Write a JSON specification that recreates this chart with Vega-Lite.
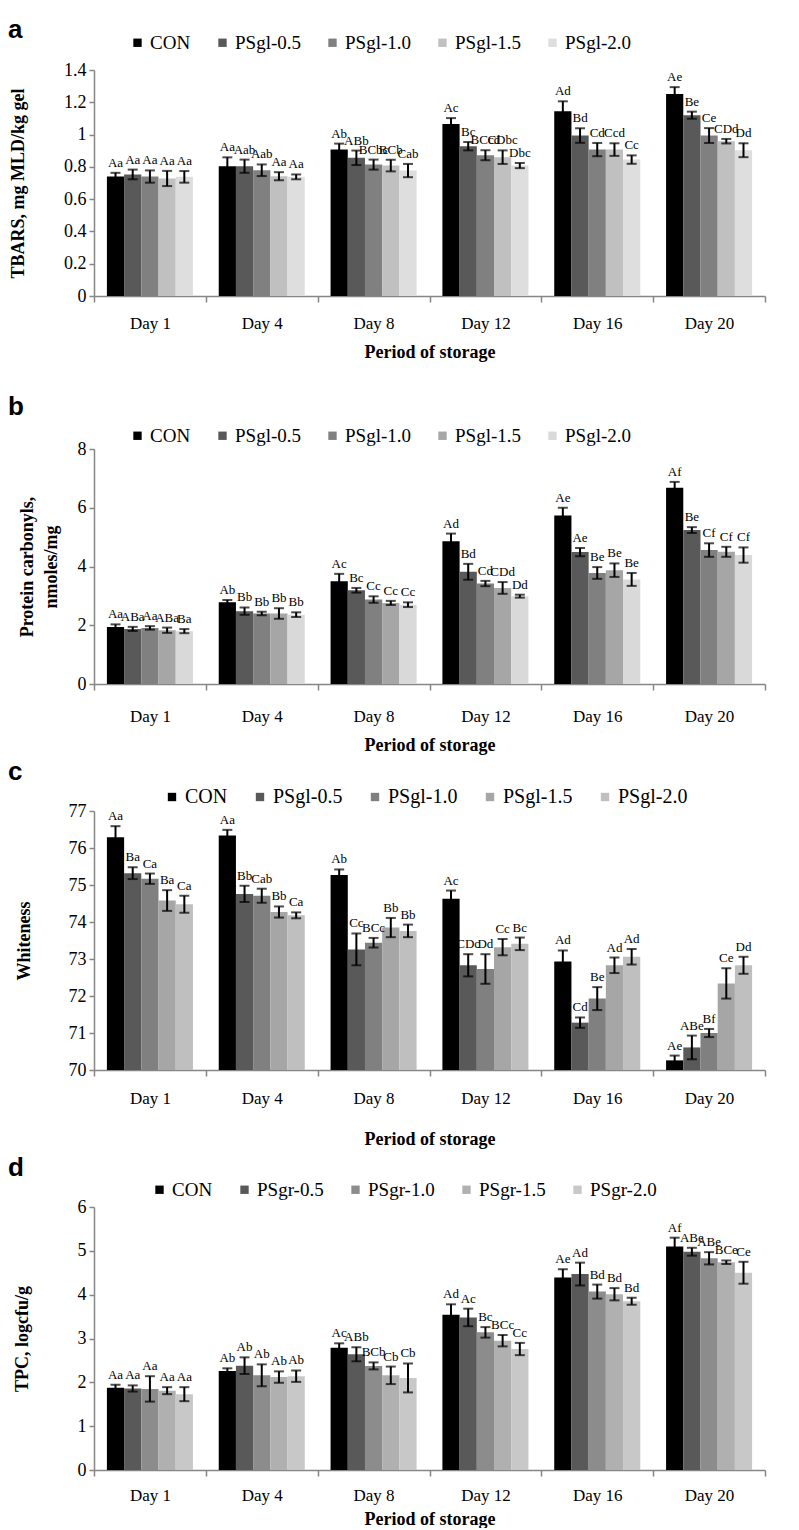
{
  "$schema": "https://vega.github.io/schema/vega-lite/v6.json",
  "padding": {"left": 8, "top": 17, "right": 5, "bottom": 0},
  "background": "white",
  "bounds": "full",
  "spacing": 5,
  "datasets": {
    "a": [
      {"day": "Day 1", "trt": "CON", "v": 0.74, "lo": 0.717, "hi": 0.763, "lab": "Aa"},
      {"day": "Day 1", "trt": "PSgl-0.5", "v": 0.753, "lo": 0.723, "hi": 0.783, "lab": "Aa"},
      {"day": "Day 1", "trt": "PSgl-1.0", "v": 0.74, "lo": 0.702, "hi": 0.778, "lab": "Aa"},
      {"day": "Day 1", "trt": "PSgl-1.5", "v": 0.728, "lo": 0.681, "hi": 0.775, "lab": "Aa"},
      {"day": "Day 1", "trt": "PSgl-2.0", "v": 0.738, "lo": 0.702, "hi": 0.774, "lab": "Aa"},
      {"day": "Day 4", "trt": "CON", "v": 0.804, "lo": 0.749, "hi": 0.859, "lab": "Aa"},
      {"day": "Day 4", "trt": "PSgl-0.5", "v": 0.804, "lo": 0.763, "hi": 0.845, "lab": "Aab"},
      {"day": "Day 4", "trt": "PSgl-1.0", "v": 0.779, "lo": 0.743, "hi": 0.815, "lab": "Aab"},
      {"day": "Day 4", "trt": "PSgl-1.5", "v": 0.742, "lo": 0.717, "hi": 0.767, "lab": "Aa"},
      {"day": "Day 4", "trt": "PSgl-2.0", "v": 0.738, "lo": 0.723, "hi": 0.753, "lab": "Aa"},
      {"day": "Day 8", "trt": "CON", "v": 0.907, "lo": 0.87, "hi": 0.944, "lab": "Ab"},
      {"day": "Day 8", "trt": "PSgl-0.5", "v": 0.856, "lo": 0.811, "hi": 0.901, "lab": "ABb"},
      {"day": "Day 8", "trt": "PSgl-1.0", "v": 0.814, "lo": 0.783, "hi": 0.845, "lab": "BCbc"},
      {"day": "Day 8", "trt": "PSgl-1.5", "v": 0.808, "lo": 0.772, "hi": 0.844, "lab": "BCb"},
      {"day": "Day 8", "trt": "PSgl-2.0", "v": 0.777, "lo": 0.736, "hi": 0.818, "lab": "Cab"},
      {"day": "Day 12", "trt": "CON", "v": 1.066, "lo": 1.03, "hi": 1.102, "lab": "Ac"},
      {"day": "Day 12", "trt": "PSgl-0.5", "v": 0.928, "lo": 0.902, "hi": 0.954, "lab": "Bc"},
      {"day": "Day 12", "trt": "PSgl-1.0", "v": 0.872, "lo": 0.841, "hi": 0.903, "lab": "BCcd"},
      {"day": "Day 12", "trt": "PSgl-1.5", "v": 0.86, "lo": 0.818, "hi": 0.902, "lab": "CDbc"},
      {"day": "Day 12", "trt": "PSgl-2.0", "v": 0.808, "lo": 0.792, "hi": 0.824, "lab": "Dbc"},
      {"day": "Day 16", "trt": "CON", "v": 1.144, "lo": 1.082, "hi": 1.206, "lab": "Ad"},
      {"day": "Day 16", "trt": "PSgl-0.5", "v": 0.994, "lo": 0.949, "hi": 1.039, "lab": "Bd"},
      {"day": "Day 16", "trt": "PSgl-1.0", "v": 0.907, "lo": 0.866, "hi": 0.948, "lab": "Cd"},
      {"day": "Day 16", "trt": "PSgl-1.5", "v": 0.907, "lo": 0.868, "hi": 0.946, "lab": "Ccd"},
      {"day": "Day 16", "trt": "PSgl-2.0", "v": 0.845, "lo": 0.819, "hi": 0.871, "lab": "Cc"},
      {"day": "Day 20", "trt": "CON", "v": 1.252, "lo": 1.21, "hi": 1.294, "lab": "Ae"},
      {"day": "Day 20", "trt": "PSgl-0.5", "v": 1.12, "lo": 1.098, "hi": 1.142, "lab": "Be"},
      {"day": "Day 20", "trt": "PSgl-1.0", "v": 0.994, "lo": 0.948, "hi": 1.04, "lab": "Ce"},
      {"day": "Day 20", "trt": "PSgl-1.5", "v": 0.959, "lo": 0.945, "hi": 0.973, "lab": "CDd"},
      {"day": "Day 20", "trt": "PSgl-2.0", "v": 0.903, "lo": 0.86, "hi": 0.946, "lab": "Dd"}
    ],
    "b": [
      {"day": "Day 1", "trt": "CON", "v": 1.94, "lo": 1.85, "hi": 2.03, "lab": "Aa"},
      {"day": "Day 1", "trt": "PSgl-0.5", "v": 1.875, "lo": 1.805, "hi": 1.945, "lab": "ABa"},
      {"day": "Day 1", "trt": "PSgl-1.0", "v": 1.91, "lo": 1.85, "hi": 1.97, "lab": "Aa"},
      {"day": "Day 1", "trt": "PSgl-1.5", "v": 1.83, "lo": 1.74, "hi": 1.92, "lab": "ABa"},
      {"day": "Day 1", "trt": "PSgl-2.0", "v": 1.8, "lo": 1.73, "hi": 1.87, "lab": "Ba"},
      {"day": "Day 4", "trt": "CON", "v": 2.78, "lo": 2.7, "hi": 2.86, "lab": "Ab"},
      {"day": "Day 4", "trt": "PSgl-0.5", "v": 2.48, "lo": 2.355, "hi": 2.605, "lab": "Bb"},
      {"day": "Day 4", "trt": "PSgl-1.0", "v": 2.4, "lo": 2.34, "hi": 2.46, "lab": "Bb"},
      {"day": "Day 4", "trt": "PSgl-1.5", "v": 2.4, "lo": 2.22, "hi": 2.58, "lab": "Bb"},
      {"day": "Day 4", "trt": "PSgl-2.0", "v": 2.36, "lo": 2.28, "hi": 2.44, "lab": "Bb"},
      {"day": "Day 8", "trt": "CON", "v": 3.5, "lo": 3.25, "hi": 3.75, "lab": "Ac"},
      {"day": "Day 8", "trt": "PSgl-0.5", "v": 3.19, "lo": 3.11, "hi": 3.27, "lab": "Bc"},
      {"day": "Day 8", "trt": "PSgl-1.0", "v": 2.875, "lo": 2.765, "hi": 2.985, "lab": "Cc"},
      {"day": "Day 8", "trt": "PSgl-1.5", "v": 2.76, "lo": 2.69, "hi": 2.83, "lab": "Cc"},
      {"day": "Day 8", "trt": "PSgl-2.0", "v": 2.7, "lo": 2.62, "hi": 2.78, "lab": "Cc"},
      {"day": "Day 12", "trt": "CON", "v": 4.86, "lo": 4.6, "hi": 5.12, "lab": "Ad"},
      {"day": "Day 12", "trt": "PSgl-0.5", "v": 3.82, "lo": 3.55, "hi": 4.09, "lab": "Bd"},
      {"day": "Day 12", "trt": "PSgl-1.0", "v": 3.42, "lo": 3.33, "hi": 3.51, "lab": "Cd"},
      {"day": "Day 12", "trt": "PSgl-1.5", "v": 3.27, "lo": 3.07, "hi": 3.47, "lab": "CDd"},
      {"day": "Day 12", "trt": "PSgl-2.0", "v": 2.99, "lo": 2.94, "hi": 3.04, "lab": "Dd"},
      {"day": "Day 16", "trt": "CON", "v": 5.74, "lo": 5.48, "hi": 6.0, "lab": "Ae"},
      {"day": "Day 16", "trt": "PSgl-0.5", "v": 4.49, "lo": 4.35, "hi": 4.63, "lab": "Ae"},
      {"day": "Day 16", "trt": "PSgl-1.0", "v": 3.78, "lo": 3.58, "hi": 3.98, "lab": "Be"},
      {"day": "Day 16", "trt": "PSgl-1.5", "v": 3.875, "lo": 3.645, "hi": 4.105, "lab": "Be"},
      {"day": "Day 16", "trt": "PSgl-2.0", "v": 3.56, "lo": 3.34, "hi": 3.78, "lab": "Be"},
      {"day": "Day 20", "trt": "CON", "v": 6.68, "lo": 6.48, "hi": 6.88, "lab": "Af"},
      {"day": "Day 20", "trt": "PSgl-0.5", "v": 5.24, "lo": 5.14, "hi": 5.34, "lab": "Be"},
      {"day": "Day 20", "trt": "PSgl-1.0", "v": 4.56, "lo": 4.33, "hi": 4.79, "lab": "Cf"},
      {"day": "Day 20", "trt": "PSgl-1.5", "v": 4.5, "lo": 4.33, "hi": 4.67, "lab": "Cf"},
      {"day": "Day 20", "trt": "PSgl-2.0", "v": 4.39, "lo": 4.13, "hi": 4.65, "lab": "Cf"}
    ],
    "c": [
      {"day": "Day 1", "trt": "CON", "v": 76.29, "lo": 75.99, "hi": 76.59, "lab": "Aa"},
      {"day": "Day 1", "trt": "PSgl-0.5", "v": 75.32, "lo": 75.16, "hi": 75.48, "lab": "Ba"},
      {"day": "Day 1", "trt": "PSgl-1.0", "v": 75.17, "lo": 75.03, "hi": 75.31, "lab": "Ca"},
      {"day": "Day 1", "trt": "PSgl-1.5", "v": 74.58, "lo": 74.3, "hi": 74.86, "lab": "Ba"},
      {"day": "Day 1", "trt": "PSgl-2.0", "v": 74.48, "lo": 74.25, "hi": 74.71, "lab": "Ca"},
      {"day": "Day 4", "trt": "CON", "v": 76.34, "lo": 76.19, "hi": 76.49, "lab": "Aa"},
      {"day": "Day 4", "trt": "PSgl-0.5", "v": 74.76, "lo": 74.54, "hi": 74.98, "lab": "Bb"},
      {"day": "Day 4", "trt": "PSgl-1.0", "v": 74.71, "lo": 74.52, "hi": 74.9, "lab": "Cab"},
      {"day": "Day 4", "trt": "PSgl-1.5", "v": 74.27, "lo": 74.12, "hi": 74.42, "lab": "Bb"},
      {"day": "Day 4", "trt": "PSgl-2.0", "v": 74.18, "lo": 74.1, "hi": 74.26, "lab": "Ca"},
      {"day": "Day 8", "trt": "CON", "v": 75.27, "lo": 75.12, "hi": 75.42, "lab": "Ab"},
      {"day": "Day 8", "trt": "PSgl-0.5", "v": 73.26, "lo": 72.83, "hi": 73.69, "lab": "Cc"},
      {"day": "Day 8", "trt": "PSgl-1.0", "v": 73.44, "lo": 73.31, "hi": 73.57, "lab": "BCc"},
      {"day": "Day 8", "trt": "PSgl-1.5", "v": 73.85, "lo": 73.59, "hi": 74.11, "lab": "Bb"},
      {"day": "Day 8", "trt": "PSgl-2.0", "v": 73.76, "lo": 73.59, "hi": 73.93, "lab": "Bb"},
      {"day": "Day 12", "trt": "CON", "v": 74.63, "lo": 74.41, "hi": 74.85, "lab": "Ac"},
      {"day": "Day 12", "trt": "PSgl-0.5", "v": 72.83, "lo": 72.53, "hi": 73.13, "lab": "CDc"},
      {"day": "Day 12", "trt": "PSgl-1.0", "v": 72.73, "lo": 72.33, "hi": 73.13, "lab": "Dd"},
      {"day": "Day 12", "trt": "PSgl-1.5", "v": 73.32, "lo": 73.1, "hi": 73.54, "lab": "Cc"},
      {"day": "Day 12", "trt": "PSgl-2.0", "v": 73.41, "lo": 73.24, "hi": 73.58, "lab": "Bc"},
      {"day": "Day 16", "trt": "CON", "v": 72.93, "lo": 72.63, "hi": 73.23, "lab": "Ad"},
      {"day": "Day 16", "trt": "PSgl-0.5", "v": 71.28, "lo": 71.14, "hi": 71.42, "lab": "Cd"},
      {"day": "Day 16", "trt": "PSgl-1.0", "v": 71.93, "lo": 71.62, "hi": 72.24, "lab": "Be"},
      {"day": "Day 16", "trt": "PSgl-1.5", "v": 72.83, "lo": 72.62, "hi": 73.04, "lab": "Ad"},
      {"day": "Day 16", "trt": "PSgl-2.0", "v": 73.06, "lo": 72.85, "hi": 73.27, "lab": "Ad"},
      {"day": "Day 20", "trt": "CON", "v": 70.26, "lo": 70.13, "hi": 70.39, "lab": "Ae"},
      {"day": "Day 20", "trt": "PSgl-0.5", "v": 70.61, "lo": 70.29, "hi": 70.93, "lab": "ABe"},
      {"day": "Day 20", "trt": "PSgl-1.0", "v": 71.0, "lo": 70.89, "hi": 71.11, "lab": "Bf"},
      {"day": "Day 20", "trt": "PSgl-1.5", "v": 72.34, "lo": 71.93, "hi": 72.75, "lab": "Ce"},
      {"day": "Day 20", "trt": "PSgl-2.0", "v": 72.83, "lo": 72.6, "hi": 73.06, "lab": "Dd"}
    ],
    "d": [
      {"day": "Day 1", "trt": "CON", "v": 1.875, "lo": 1.805, "hi": 1.945, "lab": "Aa"},
      {"day": "Day 1", "trt": "PSgr-0.5", "v": 1.86, "lo": 1.79, "hi": 1.93, "lab": "Aa"},
      {"day": "Day 1", "trt": "PSgr-1.0", "v": 1.85, "lo": 1.56, "hi": 2.14, "lab": "Aa"},
      {"day": "Day 1", "trt": "PSgr-1.5", "v": 1.81, "lo": 1.73, "hi": 1.89, "lab": "Aa"},
      {"day": "Day 1", "trt": "PSgr-2.0", "v": 1.73, "lo": 1.57, "hi": 1.89, "lab": "Aa"},
      {"day": "Day 4", "trt": "CON", "v": 2.26, "lo": 2.2, "hi": 2.32, "lab": "Ab"},
      {"day": "Day 4", "trt": "PSgr-0.5", "v": 2.38, "lo": 2.19, "hi": 2.57, "lab": "Ab"},
      {"day": "Day 4", "trt": "PSgr-1.0", "v": 2.16, "lo": 1.91, "hi": 2.41, "lab": "Ab"},
      {"day": "Day 4", "trt": "PSgr-1.5", "v": 2.12, "lo": 1.99, "hi": 2.25, "lab": "Ab"},
      {"day": "Day 4", "trt": "PSgr-2.0", "v": 2.14, "lo": 2.01, "hi": 2.27, "lab": "Ab"},
      {"day": "Day 8", "trt": "CON", "v": 2.79, "lo": 2.69, "hi": 2.89, "lab": "Ac"},
      {"day": "Day 8", "trt": "PSgr-0.5", "v": 2.64, "lo": 2.48, "hi": 2.8, "lab": "ABb"},
      {"day": "Day 8", "trt": "PSgr-1.0", "v": 2.375, "lo": 2.295, "hi": 2.455, "lab": "BCb"},
      {"day": "Day 8", "trt": "PSgr-1.5", "v": 2.16, "lo": 1.96, "hi": 2.36, "lab": "Cb"},
      {"day": "Day 8", "trt": "PSgr-2.0", "v": 2.1, "lo": 1.77, "hi": 2.43, "lab": "Cb"},
      {"day": "Day 12", "trt": "CON", "v": 3.54, "lo": 3.3, "hi": 3.78, "lab": "Ad"},
      {"day": "Day 12", "trt": "PSgr-0.5", "v": 3.48, "lo": 3.28, "hi": 3.68, "lab": "Ac"},
      {"day": "Day 12", "trt": "PSgr-1.0", "v": 3.14, "lo": 3.02, "hi": 3.26, "lab": "Bc"},
      {"day": "Day 12", "trt": "PSgr-1.5", "v": 2.95, "lo": 2.82, "hi": 3.08, "lab": "BCc"},
      {"day": "Day 12", "trt": "PSgr-2.0", "v": 2.76, "lo": 2.62, "hi": 2.9, "lab": "Cc"},
      {"day": "Day 16", "trt": "CON", "v": 4.39, "lo": 4.2, "hi": 4.58, "lab": "Ae"},
      {"day": "Day 16", "trt": "PSgr-0.5", "v": 4.47, "lo": 4.21, "hi": 4.73, "lab": "Ad"},
      {"day": "Day 16", "trt": "PSgr-1.0", "v": 4.07, "lo": 3.91, "hi": 4.23, "lab": "Bd"},
      {"day": "Day 16", "trt": "PSgr-1.5", "v": 4.01, "lo": 3.87, "hi": 4.15, "lab": "Bd"},
      {"day": "Day 16", "trt": "PSgr-2.0", "v": 3.85, "lo": 3.77, "hi": 3.93, "lab": "Bd"},
      {"day": "Day 20", "trt": "CON", "v": 5.1, "lo": 4.9, "hi": 5.3, "lab": "Af"},
      {"day": "Day 20", "trt": "PSgr-0.5", "v": 4.98, "lo": 4.89, "hi": 5.07, "lab": "ABe"},
      {"day": "Day 20", "trt": "PSgr-1.0", "v": 4.83, "lo": 4.69, "hi": 4.97, "lab": "ABe"},
      {"day": "Day 20", "trt": "PSgr-1.5", "v": 4.74, "lo": 4.7, "hi": 4.78, "lab": "BCe"},
      {"day": "Day 20", "trt": "PSgr-2.0", "v": 4.5, "lo": 4.25, "hi": 4.75, "lab": "Ce"}
    ]
  },
  "resolve": {"scale": {"x": "independent", "y": "independent", "color": "independent", "xOffset": "independent"}, "legend": {"color": "independent"}},
  "vconcat": [
    {
      "bounds": "flush",
      "spacing": 153,
      "resolve": {"scale": {"x": "independent", "y": "independent", "color": "independent", "xOffset": "independent"}, "legend": {"color": "independent"}},
      "vconcat": [
        {
          "data": {"name": "a"},
          "width": 671, "height": 226,
          "title": {"text": "a", "offset": -10},
          "encoding": {
            "x": {"field": "day", "type": "nominal", "sort": ["Day 1", "Day 4", "Day 8", "Day 12", "Day 16", "Day 20"], "scale": {"paddingInner": 0, "paddingOuter": 0}, "axis": {"title": "Period of storage"}},
            "xOffset": {"field": "trt", "type": "nominal", "sort": ["CON", "PSgl-0.5", "PSgl-1.0", "PSgl-1.5", "PSgl-2.0"], "scale": {"paddingInner": 0, "paddingOuter": 0.75}}
          },
          "layer": [
            {"mark": {"type": "bar"}, "encoding": {
              "y": {"field": "v", "type": "quantitative", "scale": {"domain": [0, 1.4], "nice": false}, "axis": {"title": "TBARS, mg MLD/kg gel", "values": [0, 0.2, 0.4, 0.6, 0.8, 1, 1.2, 1.4], "tickCount": 20, "format": ".1~f", "titleX": -76}},
              "color": {"field": "trt", "type": "nominal", "sort": ["CON", "PSgl-0.5", "PSgl-1.0", "PSgl-1.5", "PSgl-2.0"], "scale": {"range": ["#000000", "#595959", "#808080", "#c0c0c0", "#dedede"]}, "legend": {"title": null, "legendX": 34, "legendY": -37}}
            }},
            {"mark": {"type": "rule", "color": "black", "strokeWidth": 2}, "encoding": {"y": {"field": "lo", "type": "quantitative", "axis": {"title": "TBARS, mg MLD/kg gel", "tickCount": 20, "format": ".1~f"}}, "y2": {"field": "hi"}}},
            {"mark": {"type": "tick", "color": "black", "thickness": 2, "size": 10}, "encoding": {"y": {"field": "lo", "type": "quantitative", "axis": {"title": "TBARS, mg MLD/kg gel", "tickCount": 20, "format": ".1~f"}}}},
            {"mark": {"type": "tick", "color": "black", "thickness": 2, "size": 10}, "encoding": {"y": {"field": "hi", "type": "quantitative", "axis": {"title": "TBARS, mg MLD/kg gel", "tickCount": 20, "format": ".1~f"}}}},
            {"mark": {"type": "text", "baseline": "bottom", "dy": -3}, "encoding": {"y": {"field": "hi", "type": "quantitative", "axis": {"title": "TBARS, mg MLD/kg gel", "tickCount": 20, "format": ".1~f"}}, "text": {"field": "lab"}}}
          ]
        },
        {
          "data": {"name": "b"},
          "width": 671, "height": 235,
          "title": {"text": "b", "offset": 6},
          "encoding": {
            "x": {"field": "day", "type": "nominal", "sort": ["Day 1", "Day 4", "Day 8", "Day 12", "Day 16", "Day 20"], "scale": {"paddingInner": 0, "paddingOuter": 0}, "axis": {"title": "Period of storage", "labelPadding": 18}},
            "xOffset": {"field": "trt", "type": "nominal", "sort": ["CON", "PSgl-0.5", "PSgl-1.0", "PSgl-1.5", "PSgl-2.0"], "scale": {"paddingInner": 0, "paddingOuter": 0.75}}
          },
          "layer": [
            {"mark": {"type": "bar"}, "encoding": {
              "y": {"field": "v", "type": "quantitative", "scale": {"domain": [0, 8], "nice": false}, "axis": {"title": ["Protein carbonyls,", "nmoles/mg"], "values": [0, 2, 4, 6, 8], "tickCount": 20, "format": "d", "titleX": -67, "titleLineHeight": 24}},
              "color": {"field": "trt", "type": "nominal", "sort": ["CON", "PSgl-0.5", "PSgl-1.0", "PSgl-1.5", "PSgl-2.0"], "scale": {"range": ["#000000", "#595959", "#808080", "#a6a6a6", "#d9d9d9"]}, "legend": {"title": null, "legendX": 34, "legendY": -23}}
            }},
            {"mark": {"type": "rule", "color": "black", "strokeWidth": 2}, "encoding": {"y": {"field": "lo", "type": "quantitative", "axis": {"title": ["Protein carbonyls,", "nmoles/mg"], "tickCount": 20, "format": "d"}}, "y2": {"field": "hi"}}},
            {"mark": {"type": "tick", "color": "black", "thickness": 2, "size": 10}, "encoding": {"y": {"field": "lo", "type": "quantitative", "axis": {"title": ["Protein carbonyls,", "nmoles/mg"], "tickCount": 20, "format": "d"}}}},
            {"mark": {"type": "tick", "color": "black", "thickness": 2, "size": 10}, "encoding": {"y": {"field": "hi", "type": "quantitative", "axis": {"title": ["Protein carbonyls,", "nmoles/mg"], "tickCount": 20, "format": "d"}}}},
            {"mark": {"type": "text", "baseline": "bottom", "dy": -3}, "encoding": {"y": {"field": "hi", "type": "quantitative", "axis": {"title": ["Protein carbonyls,", "nmoles/mg"], "tickCount": 20, "format": "d"}}, "text": {"field": "lab"}}}
          ]
        }
      ]
    },
    {
      "bounds": "flush",
      "spacing": 137,
      "resolve": {"scale": {"x": "independent", "y": "independent", "color": "independent", "xOffset": "independent"}, "legend": {"color": "independent"}},
      "vconcat": [
        {
          "data": {"name": "c"},
          "width": 671, "height": 259,
          "title": {"text": "c", "offset": 2},
          "encoding": {
            "x": {"field": "day", "type": "nominal", "sort": ["Day 1", "Day 4", "Day 8", "Day 12", "Day 16", "Day 20"], "scale": {"paddingInner": 0, "paddingOuter": 0}, "axis": {"title": "Period of storage", "labelPadding": 14, "titlePadding": 24}},
            "xOffset": {"field": "trt", "type": "nominal", "sort": ["CON", "PSgl-0.5", "PSgl-1.0", "PSgl-1.5", "PSgl-2.0"], "scale": {"paddingInner": 0, "paddingOuter": 0.75}}
          },
          "layer": [
            {"mark": {"type": "bar"}, "encoding": {
              "y": {"field": "v", "type": "quantitative", "scale": {"domain": [70, 77], "nice": false, "zero": false}, "axis": {"title": "Whiteness", "values": [70, 71, 72, 73, 74, 75, 76, 77], "tickCount": 20, "format": "d", "titleX": -70}},
              "y2": {"datum": 70},
              "color": {"field": "trt", "type": "nominal", "sort": ["CON", "PSgl-0.5", "PSgl-1.0", "PSgl-1.5", "PSgl-2.0"], "scale": {"range": ["#000000", "#595959", "#808080", "#a6a6a6", "#bfbfbf"]}, "legend": {"title": null, "labelFontSize": 20, "legendX": 68, "legendY": -24}}
            }},
            {"mark": {"type": "rule", "color": "black", "strokeWidth": 2}, "encoding": {"y": {"field": "lo", "type": "quantitative", "axis": {"title": "Whiteness", "tickCount": 20, "format": "d"}}, "y2": {"field": "hi"}}},
            {"mark": {"type": "tick", "color": "black", "thickness": 2, "size": 10}, "encoding": {"y": {"field": "lo", "type": "quantitative", "axis": {"title": "Whiteness", "tickCount": 20, "format": "d"}}}},
            {"mark": {"type": "tick", "color": "black", "thickness": 2, "size": 10}, "encoding": {"y": {"field": "hi", "type": "quantitative", "axis": {"title": "Whiteness", "tickCount": 20, "format": "d"}}}},
            {"mark": {"type": "text", "baseline": "bottom", "dy": -3}, "encoding": {"y": {"field": "hi", "type": "quantitative", "axis": {"title": "Whiteness", "tickCount": 20, "format": "d"}}, "text": {"field": "lab"}}}
          ]
        },
        {
          "data": {"name": "d"},
          "width": 671, "height": 263,
          "title": {"text": "d", "offset": -1},
          "encoding": {
            "x": {"field": "day", "type": "nominal", "sort": ["Day 1", "Day 4", "Day 8", "Day 12", "Day 16", "Day 20"], "scale": {"paddingInner": 0, "paddingOuter": 0}, "axis": {"title": "Period of storage", "labelPadding": 11, "titlePadding": 7}},
            "xOffset": {"field": "trt", "type": "nominal", "sort": ["CON", "PSgr-0.5", "PSgr-1.0", "PSgr-1.5", "PSgr-2.0"], "scale": {"paddingInner": 0, "paddingOuter": 0.75}}
          },
          "layer": [
            {"mark": {"type": "bar"}, "encoding": {
              "y": {"field": "v", "type": "quantitative", "scale": {"domain": [0, 6], "nice": false}, "axis": {"title": "TPC, logcfu/g", "values": [0, 1, 2, 3, 4, 5, 6], "tickCount": 20, "format": "d", "titleX": -72}},
              "color": {"field": "trt", "type": "nominal", "sort": ["CON", "PSgr-0.5", "PSgr-1.0", "PSgr-1.5", "PSgr-2.0"], "scale": {"range": ["#000000", "#595959", "#8c8c8c", "#b0b0b0", "#c8c8c8"]}, "legend": {"title": null, "legendX": 56, "legendY": -27}}
            }},
            {"mark": {"type": "rule", "color": "black", "strokeWidth": 2}, "encoding": {"y": {"field": "lo", "type": "quantitative", "axis": {"title": "TPC, logcfu/g", "tickCount": 20, "format": "d"}}, "y2": {"field": "hi"}}},
            {"mark": {"type": "tick", "color": "black", "thickness": 2, "size": 10}, "encoding": {"y": {"field": "lo", "type": "quantitative", "axis": {"title": "TPC, logcfu/g", "tickCount": 20, "format": "d"}}}},
            {"mark": {"type": "tick", "color": "black", "thickness": 2, "size": 10}, "encoding": {"y": {"field": "hi", "type": "quantitative", "axis": {"title": "TPC, logcfu/g", "tickCount": 20, "format": "d"}}}},
            {"mark": {"type": "text", "baseline": "bottom", "dy": -3}, "encoding": {"y": {"field": "hi", "type": "quantitative", "axis": {"title": "TPC, logcfu/g", "tickCount": 20, "format": "d"}}, "text": {"field": "lab"}}}
          ]
        }
      ]
    }
  ],
  "config": {
    "view": {"stroke": null},
    "font": "Liberation Serif",
    "title": {"anchor": "start", "frame": "group", "dx": -86, "font": "Liberation Sans", "fontSize": 26, "fontWeight": "bold", "color": "#000000", "baseline": "bottom"},
    "axis": {"labelFont": "Liberation Serif", "labelFontSize": 17, "labelColor": "#000000", "labelOverlap": false, "titleFont": "Liberation Serif", "titleFontSize": 18, "titleFontWeight": "bold", "titleColor": "#000000", "domainColor": "#868686", "tickColor": "#868686", "domainWidth": 1.5, "tickWidth": 1.5, "grid": false},
    "axisX": {"labelFont": "Liberation Serif", "labelAngle": 0, "tickBand": "extent", "tickSize": 6, "labelPadding": 13, "titlePadding": 12},
    "axisY": {"labelFont": "Liberation Serif", "labelFontSize": 18, "labelOverlap": false, "tickSize": 5, "labelPadding": 3, "titleBaseline": "middle"},
    "legend": {"orient": "none", "direction": "horizontal", "symbolType": "square", "symbolSize": 70, "symbolStrokeWidth": 0, "labelFont": "Liberation Serif", "labelFontSize": 19, "labelColor": "#000000", "columnPadding": 22, "labelOffset": 3},
    "text": {"font": "Liberation Serif", "fontSize": 13, "color": "#000000"},
    "bar": {"stroke": null}
  }
}
